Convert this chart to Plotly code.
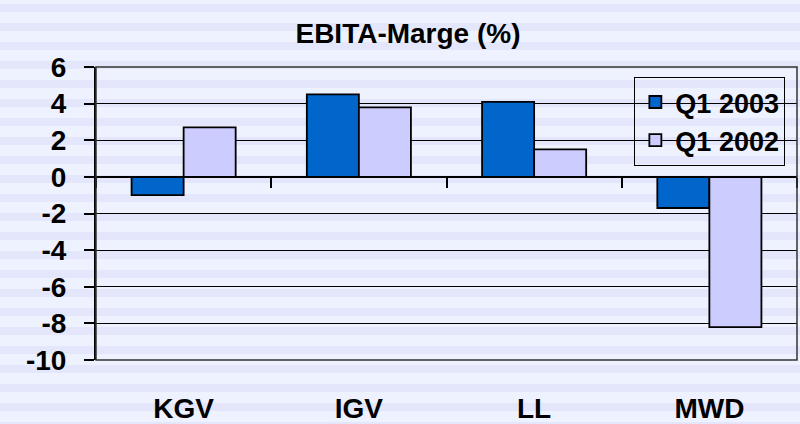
import plotly.graph_objects as go

# EBITA margin per division, Q1 2003 vs Q1 2002 (%)
categories = ["KGV", "IGV", "LL", "MWD"]
q1_2003 = [-1.0, 4.5, 4.1, -1.7]
q1_2002 = [2.7, 3.8, 1.5, -8.2]
y_ticks = [6, 4, 2, 0, -2, -4, -6, -8, -10]

W, H = 800, 424
M = dict(l=96, r=3, t=67, b=64)
FONT = "Liberation Sans, Arial, sans-serif"
ymin, ymax = -10, 6

fig = go.Figure()
fig.add_bar(x=categories, y=q1_2003, name="Q1 2003",
            marker=dict(color="#0066CC", line=dict(color="black", width=1.8)))
fig.add_bar(x=categories, y=q1_2002, name="Q1 2002",
            marker=dict(color="#CCCCFF", line=dict(color="black", width=1.8)))

# striped background, drawn in paper coords behind everything
pw = W - M["l"] - M["r"]
ph = H - M["t"] - M["b"]
shapes = []
period, band = 19, 8
for k in range(H // period + 2):
    top = k * period + 4
    y0 = (H - M["b"] - top - band) / ph
    y1 = (H - M["b"] - top) / ph
    shapes.append(dict(type="rect", xref="paper", yref="paper",
                       x0=-M["l"] / pw, x1=(W - M["l"]) / pw, y0=y0, y1=y1,
                       fillcolor="#E4E7FB", line_width=0, layer="below"))
# plot area frame
shapes.append(dict(type="rect", xref="x domain", yref="y domain",
                   x0=0, x1=1, y0=0, y1=1, line=dict(color="#333333", width=1.5)))

bold = dict(family=FONT, size=28, color="black", weight="bold")

fig.update_layout(
    width=W, height=H, margin=M,
    paper_bgcolor="#EEF1FE", plot_bgcolor="rgba(0,0,0,0)",
    font=bold,
    title=dict(text="EBITA-Marge (%)", x=0.51, xanchor="center",
               y=1 - 33 / H, yanchor="middle", yref="container",
               font=dict(bold, size=28)),
    barmode="group", bargap=0.406, bargroupgap=0,
    shapes=shapes,
    legend=dict(x=0.768, y=0.966, xanchor="left", yanchor="top",
                bgcolor="rgba(0,0,0,0)", bordercolor="black", borderwidth=1,
                font=dict(bold, size=27), tracegroupgap=0),
)

fig.update_yaxes(range=[ymin, ymax], tickvals=y_ticks,
                 ticktext=[str(v) for v in y_ticks], automargin=False,
                 showgrid=True, gridcolor="black", gridwidth=1.3,
                 zeroline=False, showline=True, linecolor="black", linewidth=2,
                 ticks="outside", ticklen=10, tickcolor="black", tickwidth=1.5,
                 ticklabelstandoff=12, tickfont=bold)

fig.update_xaxes(anchor="free", position=(0 - ymin) / (ymax - ymin),
                 automargin=False,
                 showline=True, linecolor="black", linewidth=1.5,
                 tickson="boundaries", ticks="outside", ticklen=10,
                 tickcolor="black", tickwidth=1.5,
                 ticklabelstandoff=207, tickfont=bold,
                 showgrid=False)

# drop the page's default body margin so the figure sits at the window origin
fig.write_html("out.html", config={"displayModeBar": False},
               post_script="document.body.style.margin='0';")
